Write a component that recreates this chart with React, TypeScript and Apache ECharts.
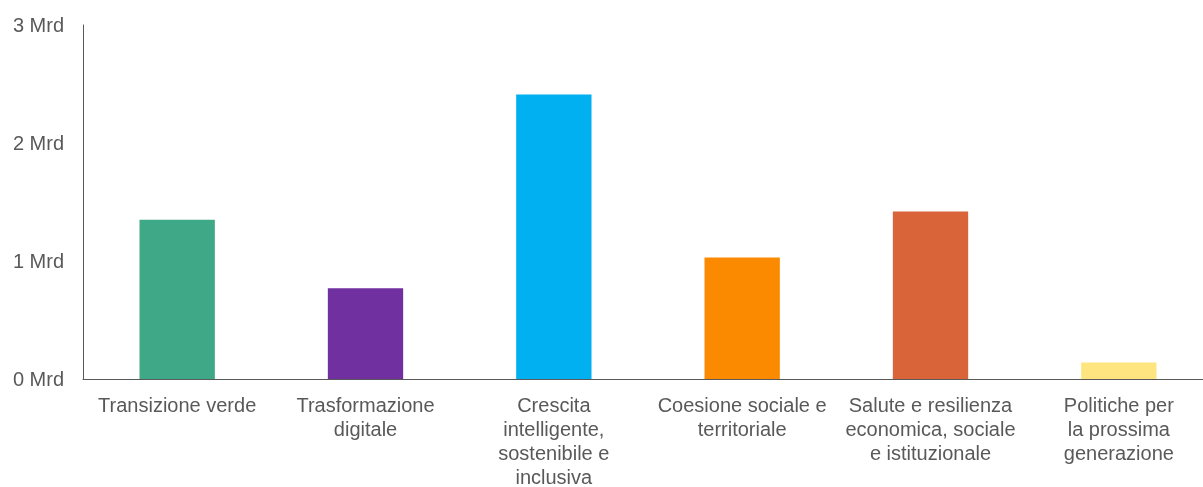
import React, { useEffect, useRef } from "react";
import * as echarts from "echarts";

const categories = [
  "Transizione verde",
  "Trasformazione\ndigitale",
  "Crescita\nintelligente,\nsostenibile e\ninclusiva",
  "Coesione sociale e\nterritoriale",
  "Salute e resilienza\neconomica, sociale\ne istituzionale",
  "Politiche per\nla prossima\ngenerazione",
];
const values = [1.35, 0.77, 2.41, 1.03, 1.42, 0.14];
const colors = ["#3FA886", "#7030A0", "#00B0F0", "#FB8A00", "#D9643A", "#FFE57F"];
const yTicks = [0, 1, 2, 3];

export default function App() {
  const ref = useRef<HTMLDivElement>(null);
  useEffect(() => {
    if (!ref.current) return;
    const chart = echarts.init(ref.current, undefined, { renderer: "svg" });
    chart.setOption({
      animation: false,
      grid: {
        left: 83,
        width: 1130,
        top: 25,
        height: 354,
        containLabel: false,
        outerBoundsMode: "none",
      },
      xAxis: {
        type: "category",
        data: categories,
        axisLine: { lineStyle: { color: "#595959", width: 1 } },
        axisTick: { show: false },
        axisLabel: {
          interval: 0,
          color: "#595959",
          fontFamily: "Liberation Sans, Arial, sans-serif",
          fontSize: 20,
          lineHeight: 24,
          margin: 14,
          align: "center",
        },
      },
      yAxis: {
        type: "value",
        min: yTicks[0],
        max: yTicks[yTicks.length - 1],
        interval: 1,
        splitLine: { show: false },
        axisLine: { show: true, lineStyle: { color: "#595959", width: 1 } },
        axisTick: { show: false },
        axisLabel: {
          color: "#595959",
          fontFamily: "Liberation Sans, Arial, sans-serif",
          fontSize: 20,
          margin: 19,
          formatter: (v: number) => `${v} Mrd`,
        },
      },
      series: [
        {
          type: "bar",
          barWidth: "40%",
          data: values.map((v, i) => ({ value: v, itemStyle: { color: colors[i] } })),
        },
      ],
    });
    return () => chart.dispose();
  }, []);
  return (
    <div
      ref={ref}
      style={{ position: "fixed", left: 0, top: 0, width: 1203, height: 487 }}
    />
  );
}
